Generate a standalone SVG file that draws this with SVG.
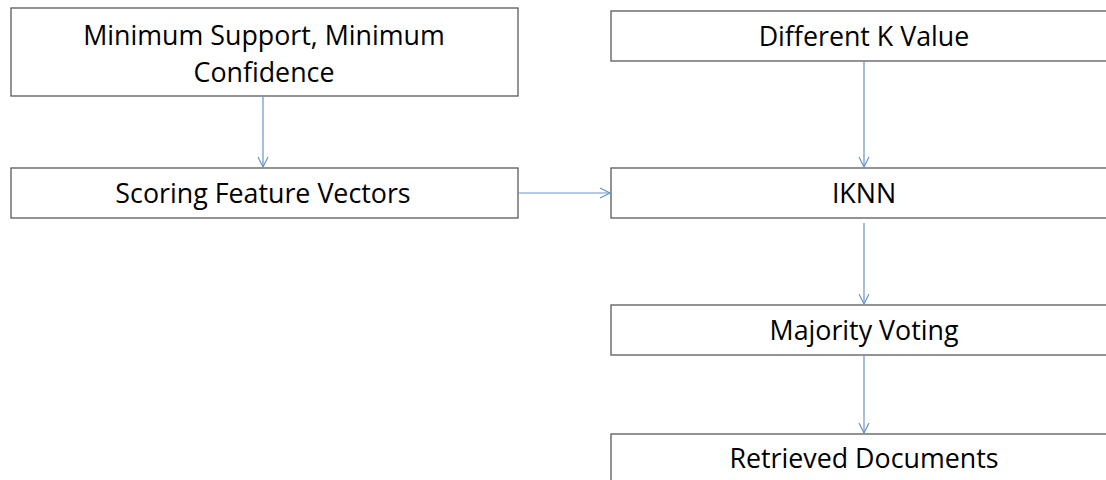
<svg xmlns="http://www.w3.org/2000/svg" width="1106" height="480" viewBox="0 0 1106 480">
  <defs>
    <style>
      .box { fill: #ffffff; stroke: #595959; stroke-width: 1.3; }
      .label { font-family: "Open Sans", "Liberation Sans", sans-serif; font-size: 26.8px; fill: #000000; text-anchor: middle; }
      .link { fill: none; stroke: #6a94cc; stroke-width: 1.2; marker-end: url(#arrow); }
    </style>
    <marker id="arrow" viewBox="0 0 12 12" refX="11" refY="6" markerWidth="12" markerHeight="12" markerUnits="userSpaceOnUse" orient="auto">
      <path d="M1,1 L11,6 L1,11" fill="none" stroke="#6a94cc" stroke-width="1.2"/>
    </marker>
  </defs>
  <rect width="1106" height="480" fill="#ffffff"/>

  <g id="min-support">
    <rect class="box" x="11" y="8" width="507" height="88"/>
    <text class="label" x="264" y="45">Minimum Support, Minimum</text>
    <text class="label" x="264" y="82">Confidence</text>
  </g>
  <g id="scoring">
    <rect class="box" x="11" y="168" width="507" height="50"/>
    <text class="label" x="263" y="203">Scoring Feature Vectors</text>
  </g>
  <g id="k-value">
    <rect class="box" x="611" y="11" width="506" height="50"/>
    <text class="label" x="864" y="46">Different K Value</text>
  </g>
  <g id="iknn">
    <rect class="box" x="611" y="168" width="506" height="50"/>
    <text class="label" x="864" y="203">IKNN</text>
  </g>
  <g id="voting">
    <rect class="box" x="611" y="305" width="506" height="50"/>
    <text class="label" x="864" y="340">Majority Voting</text>
  </g>
  <g id="retrieved">
    <rect class="box" x="611" y="434" width="506" height="50"/>
    <text class="label" x="864" y="468">Retrieved Documents</text>
  </g>

  <g id="connectors">
    <line class="link" x1="263" y1="96" x2="263" y2="167"/>
    <line class="link" x1="518" y1="193" x2="610" y2="193"/>
    <line class="link" x1="864" y1="61" x2="864" y2="167"/>
    <line class="link" x1="864" y1="223" x2="864" y2="304"/>
    <line class="link" x1="864" y1="355" x2="864" y2="433"/>
  </g>
</svg>
